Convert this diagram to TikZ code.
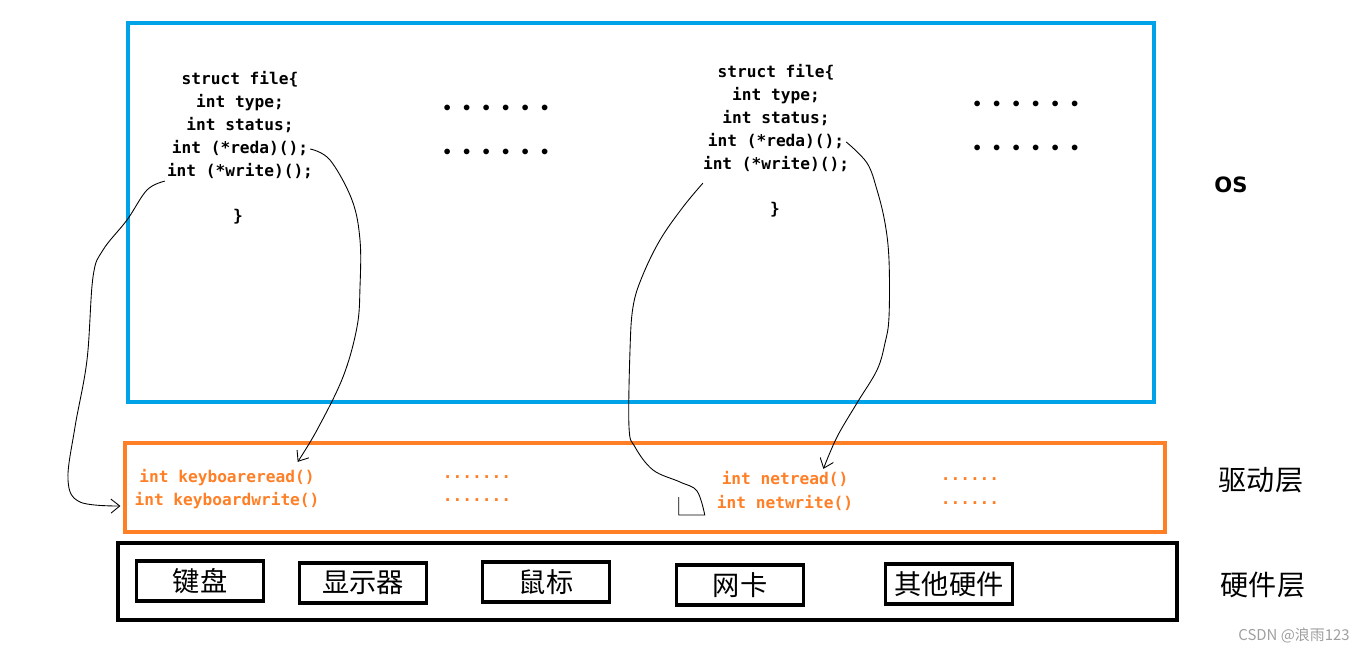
\documentclass[tikz,border=0pt]{standalone}
\usepackage{fontspec}
\setmainfont{DejaVu Sans}
\setsansfont{DejaVu Sans}
\setmonofont{DejaVu Sans Mono}
\newfontfamily\cjk{Noto Sans CJK SC}
\usetikzlibrary{arrows.meta, positioning, calc}
\definecolor{osblue}{HTML}{00A2E8}
\definecolor{drvorange}{HTML}{FF7F27}

\begin{document}
\begin{tikzpicture}[
        x=0.02cm, y=-0.02cm,
        code/.style={font=\ttfamily\bfseries\fontsize{9.2}{11}\selectfont, inner sep=1pt, text height=6.5pt, text depth=1.5pt},
        drv/.style={code, text=drvorange},
        hwbox/.style={draw, line width=2.2pt, minimum width=2.54cm, minimum height=0.8cm, inner sep=0pt, font=\cjk\fontsize{15.5}{16}\selectfont},
        layer/.style={font=\cjk\fontsize{16}{17}\selectfont},
        link/.style={-{Straight Barb[length=5pt,width=8pt]}, line width=0.5pt}
    ]
        \useasboundingbox (0,0) rectangle (1365,651);

        % Schichten
        \node[draw=osblue, line width=2.3pt, minimum width=20.52cm, minimum height=7.58cm] (os) at (641,212.5) {};
        \node[draw=drvorange, line width=2.3pt, minimum width=20.8cm, minimum height=1.78cm] (drv) at (645,487.5) {};
        \node[draw, line width=2.4pt, minimum width=21.18cm, minimum height=1.54cm] (hw) at (647.5,581.5) {};

        % struct file (links)
        \node[code] (sA) at (240,80) {struct file\{};
        \node[code] (tA) at (240,103) {int type;};
        \node[code] (stA) at (240,126) {int status;};
        \node[code] (rA) at (240,149) {int (*reda)();};
        \node[code] (wA) at (240,172) {int (*write)();};
        \node[code] (eA) at (238,217) {\}};
        \node[code] (dA1) at (496,109) {∙ ∙ ∙ ∙ ∙ ∙};
        \node[code] (dA2) at (496,153) {∙ ∙ ∙ ∙ ∙ ∙};

        % struct file (rechts)
        \node[code] (sB) at (776,73) {struct file\{};
        \node[code] (tB) at (776,96) {int type;};
        \node[code] (stB) at (776,119) {int status;};
        \node[code] (rB) at (776,142) {int (*reda)();};
        \node[code] (wB) at (776,165) {int (*write)();};
        \node[code] (eB) at (775,210) {\}};
        \node[code] (dB1) at (1026,105) {∙ ∙ ∙ ∙ ∙ ∙};
        \node[code] (dB2) at (1026,149) {∙ ∙ ∙ ∙ ∙ ∙};

        % Treiber
        \node[drv] (kr) at (227,478) {int keyboareread()};
        \node[drv] (kw) at (227,501) {int keyboardwrite()};
        \node[drv] (kd1) at (477,474) {.......};
        \node[drv] (kd2) at (477,497) {.......};
        \node[drv] (nr) at (785,480) {int netread()};
        \node[drv] (nw) at (785,504) {int netwrite()};
        \node[drv] (nd1) at (970,476) {......};
        \node[drv] (nd2) at (970,500) {......};

        % Hardware
        \node[hwbox] (kbd) at (200,581) {键盘};
        \node[hwbox] (disp) at (363,583) {显示器};
        \node[hwbox] (mouse) at (546,582) {鼠标};
        \node[hwbox] (nic) at (740,585) {网卡};
        \node[hwbox] (other) at (949,584) {其他硬件};

        % Beschriftung
        \node[font=\sffamily\bfseries\fontsize{12}{14}\selectfont] (osl) at (1231,185) {OS};
        \node[layer] (drvl) at (1261,480) {驱动层};
        \node[layer] (hwl) at (1263,585) {硬件层};
        \node[font=\cjk\fontsize{8.5}{10}\selectfont, text=gray!75] (mark) at (1294,635) {CSDN @浪雨123};

        % Zeiger
        \coordinate (hook) at ([shift={(-10,11)}]nw.west);
        \draw[link] plot[smooth, tension=0.6] coordinates {(rA.east) (330,160) (352,200) (360,240) (360,287) (357,327) (343,377) (317,430) ([shift={(-19,-7)}]kr.north east)};
        \draw[link] plot[smooth, tension=0.6] coordinates {(wA.south west) (147,190) (127,220) (103,250) (93,277) (87,360) (75,427) (68,480) (80,502) ([shift={(-12,5)}]kw.west)};
        \draw[link] plot[smooth, tension=0.6] coordinates {(rB.east) (867,163) (877,190) (885,223) (889,260) (889,317) (885,343) (877,370) (857,403) (837,437) ([shift={(-27,-2)}]nr.north east)};
        \draw[line width=0.5pt] plot[smooth, tension=0.6] coordinates {([shift={(2,9)}]wB.south west) (683,207) (660,240) (642,277) (633,307) (630,350) (629,427) (635,447) (653,470) (680,482) (697,491) (hook)} -- ++(-26,0) -- ++(0,-18);
    \end{tikzpicture}
\end{document}
